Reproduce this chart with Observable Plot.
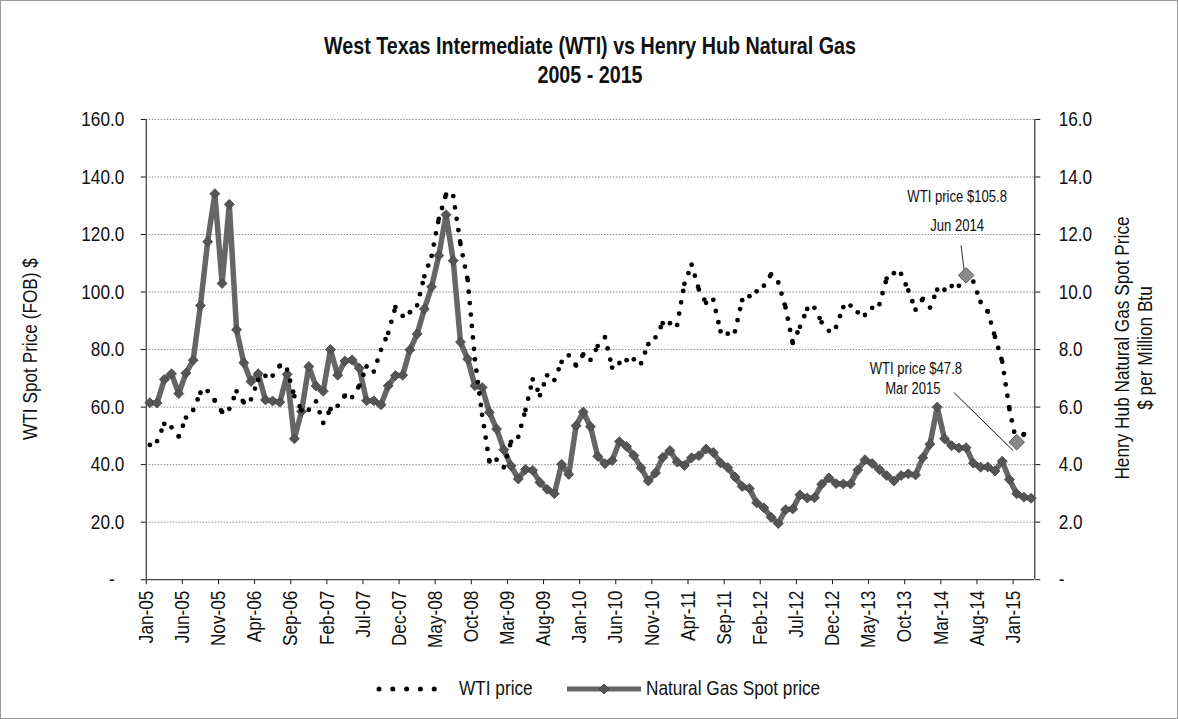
<!DOCTYPE html>
<html><head><meta charset="utf-8">
<script src="https://cdn.jsdelivr.net/npm/d3@7"></script>
<script src="https://cdn.jsdelivr.net/npm/@observablehq/plot@0.6"></script>
<style>
body{margin:0;background:#fff;}
#wrap{position:relative;width:1178px;height:719px;box-sizing:border-box;border:1px solid #9a9a9a;font-family:"Liberation Sans Narrow","Arial Narrow","Liberation Sans",Arial,sans-serif;color:#111;overflow:hidden;background:#fff;}
#title{position:absolute;left:0;top:30px;width:1178px;text-align:center;font-weight:bold;font-size:24px;line-height:29px;transform:scaleX(0.82);transform-origin:589px 0;}
#chart{position:absolute;left:0;top:100px;}
.ylab{position:absolute;font-size:21px;white-space:nowrap;transform:translate(-50%,-50%) rotate(-90deg) scaleX(0.82);text-align:center;line-height:23px;}
.leg{position:absolute;top:675px;font-size:21px;line-height:24px;white-space:nowrap;}
.sq{transform:scaleX(0.82);transform-origin:0 0;}
</style></head>
<body>
<div id="wrap">
  <div id="title">West Texas Intermediate (WTI) vs Henry Hub Natural Gas<br>2005 - 2015</div>
  <div id="chart"></div>
  <div class="ylab" style="left:28px;top:348px;">WTI Spot Price (FOB) $</div>
  <div class="ylab" style="left:1132px;top:347px;">Henry Hub Natural Gas Spot Price<br>$ per Million Btu</div>
  <svg class="leg" style="left:372px;top:682px;" width="80" height="12"><line x1="6" x2="75" y1="6" y2="6" stroke="#000" stroke-width="5" stroke-linecap="round" stroke-dasharray="0 13.8"/></svg>
  <div class="leg sq" style="left:458px;">WTI price</div>
  <svg class="leg" style="left:562px;top:680px;" width="82" height="16"><line x1="4" x2="78" y1="8" y2="8" stroke="#666" stroke-width="5"/><path d="M41,3 L46,8 L41,13 L36,8 Z" fill="#555" stroke="#444"/></svg>
  <div class="leg sq" style="left:645px;">Natural Gas Spot price</div>
</div>
<script>
// Monthly values, Jan-05 .. Mar-15
const wti = [
  46.84, 48.15, 54.19, 52.98, 49.83, 56.35, 59.00, 64.99, 65.59, 62.26, 58.32, 59.41,
  65.49, 61.63, 62.69, 69.44, 70.84, 70.95, 74.41, 73.04, 63.80, 58.89, 59.08, 61.96,
  54.51, 59.28, 60.44, 63.98, 63.46, 67.49, 74.12, 72.36, 79.92, 85.80, 94.77, 91.69,
  92.97, 95.39, 105.45, 112.58, 125.40, 133.88, 133.37, 116.67, 104.11, 76.61, 57.31, 41.12,
  41.71, 39.09, 47.94, 49.65, 59.03, 69.64, 64.15, 71.05, 69.41, 75.72, 77.99, 74.47,
  78.33, 76.39, 81.20, 84.29, 73.74, 75.34, 76.32, 76.60, 75.24, 81.89, 84.25, 89.15,
  89.17, 88.58, 102.86, 109.53, 100.90, 96.26, 97.30, 86.33, 85.52, 86.32, 97.16, 98.56,
  100.27, 102.20, 106.16, 103.32, 94.66, 82.30, 87.90, 94.13, 94.51, 89.49, 86.53, 87.86,
  94.76, 95.31, 92.94, 92.02, 94.51, 95.77, 104.67, 106.57, 106.29, 100.54, 93.86, 97.63,
  94.62, 100.82, 100.80, 102.07, 102.18, 105.79, 103.59, 96.54, 93.21, 84.40, 75.79, 59.29,
  47.22, 50.58, 47.82
];
const gas = [
  6.15, 6.14, 6.96, 7.16, 6.47, 7.18, 7.63, 9.53, 11.75, 13.42, 10.30, 13.05,
  8.69, 7.54, 6.89, 7.16, 6.25, 6.21, 6.17, 7.14, 4.90, 5.85, 7.41, 6.73,
  6.55, 8.00, 7.11, 7.60, 7.64, 7.35, 6.22, 6.22, 6.08, 6.74, 7.10, 7.11,
  7.99, 8.54, 9.41, 10.18, 11.27, 12.69, 11.09, 8.26, 7.67, 6.74, 6.68, 5.82,
  5.24, 4.52, 3.96, 3.50, 3.83, 3.80, 3.38, 3.14, 2.99, 4.01, 3.66, 5.35,
  5.83, 5.32, 4.29, 4.03, 4.14, 4.80, 4.63, 4.32, 3.89, 3.43, 3.71, 4.25,
  4.49, 4.09, 3.97, 4.24, 4.31, 4.54, 4.42, 4.06, 3.90, 3.57, 3.24, 3.17,
  2.67, 2.50, 2.17, 1.95, 2.43, 2.46, 2.95, 2.84, 2.85, 3.32, 3.54, 3.34,
  3.33, 3.33, 3.81, 4.17, 4.04, 3.83, 3.62, 3.43, 3.62, 3.68, 3.64, 4.24,
  4.71, 6.00, 4.90, 4.66, 4.58, 4.59, 4.05, 3.91, 3.92, 3.78, 4.12, 3.48,
  2.99, 2.87, 2.83
];
const tickLabels = ["Jan-05","Jun-05","Nov-05","Apr-06","Sep-06","Feb-07","Jul-07","Dec-07","May-08","Oct-08",
  "Mar-09","Aug-09","Jan-10","Jun-10","Nov-10","Apr-11","Sep-11","Feb-12","Jul-12","Dec-12",
  "May-13","Oct-13","Mar-14","Aug-14","Jan-15"];
const wtiTicks = [0, 20, 40, 60, 80, 100, 120, 140, 160];
const gasTicks = [0, 2, 4, 6, 8, 10, 12, 14, 16];
// annotations: month index, WTI value, texts
const noteMonth = [113, 120];
const noteValue = [105.8, 47.8];
const noteLine1 = ["WTI price $105.8", "WTI price $47.8"];
const noteLine2 = ["Jun 2014", "Mar 2015"];

const nMonths = wti.length;
const font = '"Liberation Sans Narrow","Arial Narrow","Liberation Sans",Arial,sans-serif';
const gasK = 10; // secondary axis: gas $ scaled onto WTI axis
const gasRows = gas.map((v, i) => ({i, v}));
const wtiSegs = wti.slice(0, -1).map((v, i) => ({i, v, v2: wti[i + 1]}));
const notes = noteMonth.map((m, k) => ({i: m, v: noteValue[k], t1: noteLine1[k], t2: noteLine2[k]}));
const xTickPos = tickLabels.map((_, k) => k * 5);

const chart = Plot.plot({
  width: 1178, height: 560,
  marginLeft: 145, marginRight: 143, marginTop: 18, marginBottom: 81,
  x: {domain: [0, nMonths]},
  y: {domain: [0, 160]},
  style: {fontFamily: font, fontSize: "21px", background: "transparent", color: "#111", overflow: "visible"},
  marks: [
    Plot.ruleY(wtiTicks.filter(d => d > 0), {stroke: "#8c8c8c", strokeDasharray: "1.5 1.5"}),
    Plot.axisY(wtiTicks, {anchor: "left", tickFormat: d => d === 0 ? "-\u00a0\u00a0" : d.toFixed(1), tickSize: 5, tickPadding: 17, label: null, fontSize: 21}),
    Plot.axisY(gasTicks.map(d => d * gasK), {anchor: "right", tickFormat: d => d === 0 ? "-" : (d / gasK).toFixed(1), tickSize: 5, tickPadding: 19, label: null, fontSize: 21}),
    Plot.axisX(xTickPos, {anchor: "bottom", tickRotate: -90, tickFormat: d => tickLabels[d / 5], tickSize: 5, tickPadding: 6, label: null, fontSize: 21}),
    Plot.ruleX([0, nMonths], {stroke: "#444", strokeWidth: 1.3}),
    Plot.ruleY([0], {stroke: "#444", strokeWidth: 1.3}),
    Plot.line(gasRows, {x: d => d.i + 0.5, y: d => d.v * gasK, stroke: "#666", strokeWidth: 5.5}),
    Plot.dot(gasRows, {x: d => d.i + 0.5, y: d => d.v * gasK, symbol: "diamond2", r: 4.5, fill: "#555", stroke: "#444", strokeWidth: 0.8}),
    Plot.link(wtiSegs, {x1: d => d.i + 0.5, y1: d => d.v, x2: d => d.i + 1.5, y2: d => d.v2, stroke: "#000", strokeWidth: 4.8, strokeLinecap: "round", strokeDasharray: "0 11.5"}),
    // annotation: Jun 2014
    Plot.link([notes[0]], {x1: d => d.i + 0.5 - 0.7, y1: d => d.v + 10.4, x2: d => d.i + 0.5 - 0.28, y2: d => d.v + 1.8, stroke: "#333", strokeWidth: 1}),
    Plot.text([notes[0]], {x: d => d.i + 0.5, y: d => d.v, text: d => d.t1, dx: -9, dy: -79, fontSize: 16, fill: "#111"}),
    Plot.text([notes[0]], {x: d => d.i + 0.5, y: d => d.v, text: d => d.t2, dx: -9, dy: -50, fontSize: 16, fill: "#111"}),
    // annotation: Mar 2015
    Plot.link([notes[1]], {x1: d => d.i + 0.5 - 8.65, y1: d => d.v + 17.2, x2: d => d.i + 0.5 - 0.5, y2: d => d.v - 2.9, stroke: "#111", strokeWidth: 1}),
    Plot.text([notes[1]], {x: d => d.i + 0.5, y: d => d.v, text: d => d.t1, dx: -101, dy: -73, fontSize: 16, fill: "#111"}),
    Plot.text([notes[1]], {x: d => d.i + 0.5, y: d => d.v, text: d => d.t2, dx: -104, dy: -53, fontSize: 16, fill: "#111"}),
    Plot.dot(notes, {x: d => d.i + 0.5, y: d => d.v, symbol: "diamond2", r: 7, fill: "#8a8a8a", stroke: "#555", strokeWidth: 1})
  ]
});
document.getElementById("chart").appendChild(chart);

// Emulate a narrow face (Arial Narrow ≈ 82% of Arial width) by squeezing glyphs along the baseline.
chart.querySelectorAll("text, tspan").forEach(el => {
  const hasTextNode = Array.from(el.childNodes).some(n => n.nodeType === 3 && n.textContent.trim() !== "");
  if (!hasTextNode) return;
  const L = el.getComputedTextLength();
  if (L > 0) {
    el.setAttribute("textLength", (L * 0.82).toFixed(2));
    el.setAttribute("lengthAdjust", "spacingAndGlyphs");
  }
});
</script>
</body></html>
